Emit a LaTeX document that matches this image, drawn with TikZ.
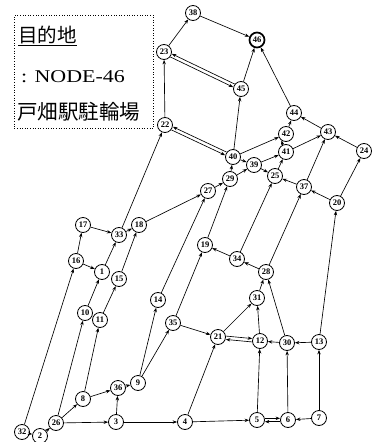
\documentclass[tikz,border=0pt]{standalone}
\usepackage{fontspec}
\setmainfont{Liberation Serif}
\newfontfamily\cjk{Noto Sans CJK JP}
\usetikzlibrary{arrows.meta}
\begin{document}
\begin{tikzpicture}[x=1pt,y=-1pt,
  nd/.style={circle,draw,line width=0.8pt,minimum size=15pt,inner sep=0pt,fill=white,font=\fontsize{8.5}{8.5}\selectfont},
  ar/.style={-{Stealth[length=4.5pt,width=3.4pt]},line width=0.65pt},
  txt/.style={anchor=west,inner sep=0pt}
]
\useasboundingbox (0,0) rectangle (378,442);
% legend box
\node[draw,dotted,line width=0.6pt,minimum width=139pt,minimum height=113pt,anchor=north west,inner sep=0pt] (box) at (14,15) {};
\node[txt] (t1) at (18,36) {\cjk\fontsize{19.5}{19.5}\selectfont\underline{目的地}};
\node[txt] (t2) at (21,77) {\fontsize{18}{18}\selectfont\scalebox{1.22}[1]{: NODE-46}};
\node[txt] (t3) at (17,112) {\cjk\fontsize{20.5}{20.5}\selectfont 戸畑駅駐輪場};
% nodes
\foreach \n/\x/\y in {38/193/13, 23/164/52, 45/241/89, 22/165/125, 44/294/113,
  42/286/134, 43/328/132, 41/286/152, 40/233/157, 39/254/165, 29/230/179,
  25/275/176, 24/364/151, 37/304/187, 20/337/203, 27/208/191, 17/83/225,
  33/119/235, 18/139/225, 16/76/261, 1/102/272, 15/119/279, 19/205/245,
  34/237/259, 28/266/272, 10/85/313, 11/100/320, 14/158/300, 31/257/298,
  35/173/323, 21/218/337, 12/260/341, 30/287/343, 13/319/342, 8/83/399,
  36/118/388, 9/138/383, 26/56/423, 32/22/432, 2/40/436, 3/116/422,
  4/185/422, 5/257/420, 6/288/420, 7/319/418}
  \node[nd] (n\n) at (\x,\y) {\textbf{\n}};
\node[nd,line width=1.7pt] (n46) at (257,40) {\textbf{46}};
% single arrows
\foreach \a/\b in {38/46, 23/38, 45/46, 44/46, 22/23, 40/45, 40/42, 42/44,
  43/44, 41/43, 24/43, 37/43, 20/24, 20/37, 37/25, 25/41, 39/25, 29/39,
  29/40, 27/29, 39/41, 40/39, 18/27, 14/27, 19/29, 35/19, 34/19, 34/25,
  28/34, 28/37, 31/28, 30/28, 21/31, 12/31, 30/12, 13/30, 13/20, 7/13,
  7/6, 6/30, 5/12, 4/5, 4/21, 35/21, 3/4, 3/36, 26/3, 26/8, 26/10, 8/36,
  8/11, 36/9, 9/14, 9/35, 2/26, 32/2, 32/16, 16/17, 16/1, 17/33, 10/1,
  1/33, 33/18, 11/15, 15/18, 33/22}
  \draw[ar] (n\a) -- (n\b);
\draw[ar] (n41.115) -- (n42.235);
% double arrows
\draw[ar,transform canvas={shift={(0.75,-1.55)}}] (n45) -- (n23);
\draw[ar,transform canvas={shift={(-0.75,1.55)}}] (n23) -- (n45);
\draw[ar,transform canvas={shift={(0.72,-1.55)}}] (n40) -- (n22);
\draw[ar,transform canvas={shift={(-0.72,1.55)}}] (n22) -- (n40);
\draw[ar,transform canvas={shift={(0,-1.7)}}] (n21) -- (n12);
\draw[ar,transform canvas={shift={(0,1.7)}}] (n12) -- (n21);
\draw[ar,transform canvas={shift={(0,-1.7)}}] (n5) -- (n6);
\draw[ar,transform canvas={shift={(0,1.7)}}] (n6) -- (n5);
\end{tikzpicture}
\end{document}
